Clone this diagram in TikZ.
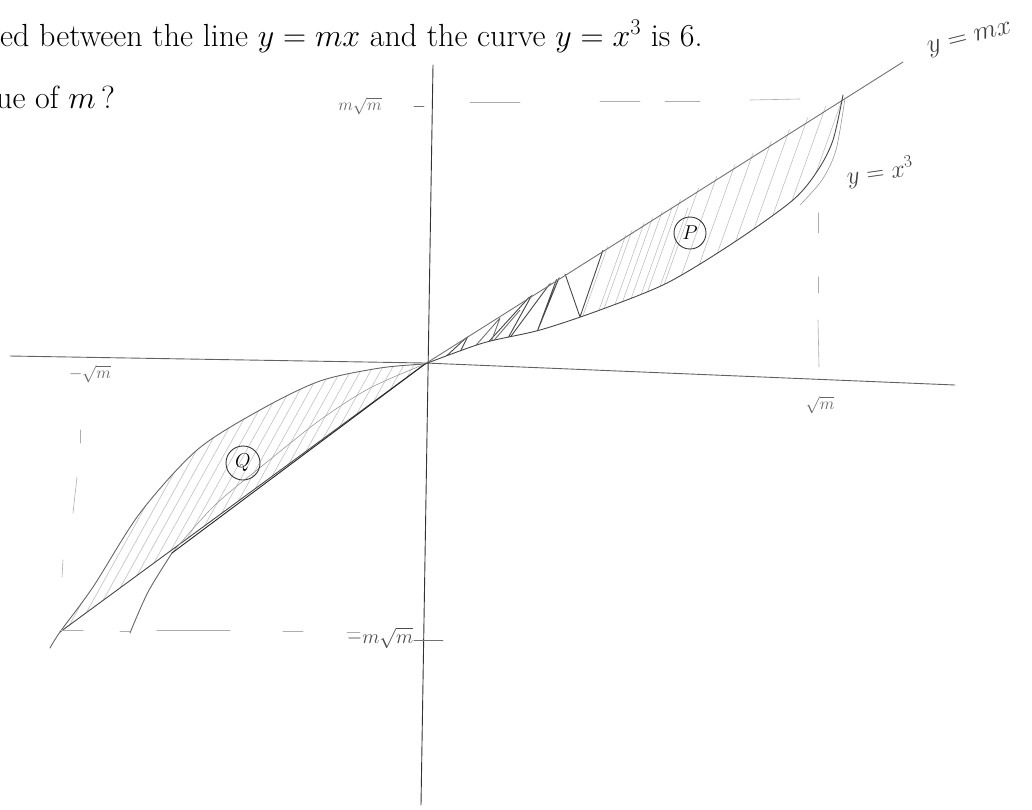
\RequirePackage{fix-cm}
\documentclass[tikz,border=0pt]{standalone}
\usepackage{amsmath}
\begin{document}
\begin{tikzpicture}[x=1pt,y=-1pt,
  pencil/.style={draw=black!72, line width=0.9pt, line cap=round, line join=round},
  faint/.style={draw=black!40, line width=0.6pt, line cap=round},
  hatchlight/.style={draw=black!26, line width=0.55pt},
  hatchdark/.style={draw=black!72, line width=0.9pt, line join=round},
  guide/.style={draw=black!32, line width=0.6pt, line cap=round},
  hand/.style={text=black!75, inner sep=0pt},
  ring/.style={draw=black!80, line width=0.9pt, circle, inner sep=0pt}
  ]
\useasboundingbox (0,0) rectangle (1032,809);
\fill[white] (0,0) rectangle (1032,809);

% printed question text
\node[anchor=base west, inner sep=0pt, font=\fontsize{32}{38}\selectfont] (q1) at (0,46)
  {ed between the line $y = mx$ and the curve $y = x^3$ is 6.};
\node[anchor=base west, inner sep=0pt, font=\fontsize{32}{38}\selectfont] (q2) at (-4,108)
  {ue of $m$\,?};

% key points
\coordinate (O) at (425,364);
\coordinate (A) at (843,95);
\coordinate (B) at (60,632);
\coordinate (E) at (903,62);

% hatching in region P
\begin{scope}
  \clip (O) -- (A) -- plot[smooth] coordinates {(843,95) (833,140) (818,170) (793,200) (733,243) (667,283) (600,310) (540,330) (483,343) (425,364)} -- cycle;
  \foreach \x in {560,574,...,840} \draw[hatchlight] (\x,380) -- ++(130,-364);
  \draw[hatchdark] (440,362)--(468,336)--(458,356)--(483,348)--(533,293)--(503,347)--(560,270)--(537,332)--(563,268)--(580,317)--(603,250);
  \draw[hatchdark, draw=black!55] (470,352)--(500,318)--(490,345)--(520,310);
  \foreach \x in {600,616,...,660} \draw[hatchlight] (\x,320) -- ++(40,-112);
\end{scope}

% hatching in region Q
\begin{scope}
  \clip (B) -- plot[smooth] coordinates {(60,632) (93,587) (140,513) (197,450) (260,410) (320,381) (380,368) (425,364)} -- cycle;
  \foreach \x in {0,10,...,470} \draw[hatchlight] (\x,660) -- ++(180,-324);
\end{scope}

% axes
\draw[pencil, draw=black!62] (10,356) -- (425,363) -- (955,385);
\draw[pencil, draw=black!80] (433,65) -- (421,805);

% line y = mx
\draw[pencil] (B) -- (O);
\draw[pencil, draw=black!55] (O) -- (E);

% curve y = x^3
\draw[pencil] plot[smooth] coordinates {(843,95) (833,140) (818,170) (793,200) (733,243) (667,283) (600,310) (540,330) (483,343) (425,364)};
\draw[faint] plot[smooth] coordinates {(845,98) (836,150) (822,180) (800,205)};
\draw[pencil, draw=black!60] plot[smooth] coordinates {(50,648) (60,632) (93,587) (140,513) (197,450) (260,410) (320,381) (380,368) (425,364)};

% second stroke in the lower left
\draw[pencil, draw=black!60] plot[smooth] coordinates {(130,633) (148,592) (172,553)};
\draw[faint] plot[smooth] coordinates {(172,553) (215,505) (267,462) (320,420) (370,388) (425,364)};
\draw[pencil, draw=black!85] (172,553) -- (O);

% dashed guides
\draw[guide] (470,102) -- (520,102);
\draw[guide] (600,101) -- (640,101);
\draw[guide] (665,101) -- (700,101);
\draw[guide] (750,100) -- (800,99);
\draw[guide] (60,630) -- (83,630);
\draw[guide] (120,631) -- (130,631);
\draw[guide] (157,630) -- (230,630);
\draw[guide] (283,631) -- (303,631);
\draw[guide] (347,632) -- (360,632);
\draw[guide] (818,213) -- (818,233);
\draw[guide] (818,277) -- (818,293);
\draw[guide] (818,320) -- (819,367);
\draw[guide] (80,430) -- (80,443);
\draw[guide] (77,477) -- (73,513);
\draw[guide] (63,560) -- (62,577);

% ticks
\draw[guide, draw=black!55] (414,106) -- (424,106);
\draw[guide, draw=black!55] (414,640) -- (443,640);

% axis labels
\node[hand, text=black!60, font=\fontsize{17}{17}\selectfont] (lmsm) at (360,106) {$m\sqrt{m}$};
\node[hand, text=black!70, font=\fontsize{20}{20}\selectfont] (lnmsm) at (380,638) {$-m\sqrt{m}$};
\node[hand, text=black!60, font=\fontsize{17}{17}\selectfont] (lnsm) at (90,374) {$-\sqrt{m}$};
\node[hand, text=black!60, font=\fontsize{17}{17}\selectfont] (lsm) at (820,405) {$\sqrt{m}$};

% curve labels
\node[hand, rotate=14, font=\fontsize{27}{27}\selectfont] (lline) at (970,40) {$y = mx$};
\node[hand, rotate=8, font=\fontsize{25}{25}\selectfont] (lcurve) at (880,172) {$y = x^3$};

% region labels
\node[ring, minimum size=32pt, font=\fontsize{20}{20}\selectfont] (P) at (690,233) {$P$};
\node[ring, minimum size=34pt, font=\fontsize{20}{20}\selectfont] (Q) at (243,463) {$Q$};
\end{tikzpicture}
\end{document}
